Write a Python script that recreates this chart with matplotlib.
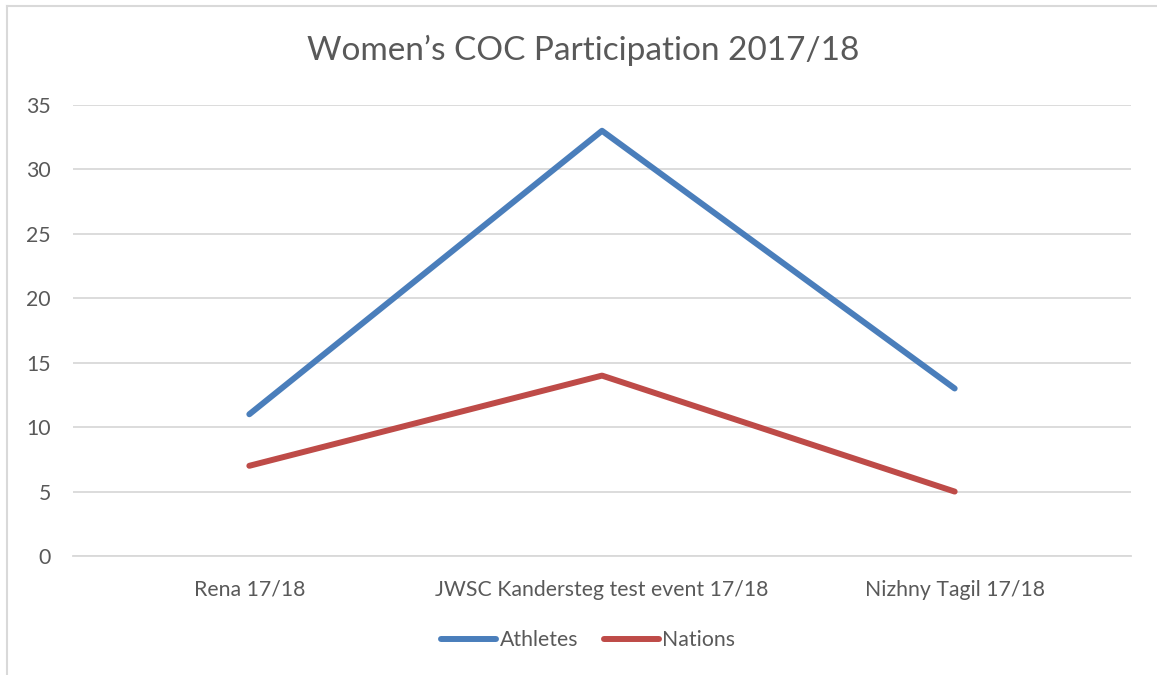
import matplotlib.pyplot as plt
from matplotlib.lines import Line2D

categories = ['Rena 17/18', 'JWSC Kandersteg test event 17/18', 'Nizhny Tagil 17/18']
athletes = [11, 33, 13]
nations = [7, 14, 5]
y_ticks = [0, 5, 10, 15, 20, 25, 30, 35]

text_color = '#595959'
grid_color = '#d9d9d9'
plt.rcParams['font.family'] = ['Lato', 'DejaVu Sans']

fig = plt.figure(figsize=(11.57, 6.75), dpi=100)
W, H = 1157, 675
# plot area in pixels: x 73..1131, y 105..556
ax = fig.add_axes([73 / W, 1 - 556 / H, (1131 - 73) / W, (556 - 105) / H])

x = range(len(categories))
ax.plot(x, athletes, color='#4a7ebb', lw=4.3, solid_capstyle='round',
        solid_joinstyle='round', label='Athletes')
ax.plot(x, nations, color='#be4b48', lw=4.3, solid_capstyle='round',
        solid_joinstyle='round', label='Nations')

ax.set_xlim(-0.5, 2.5)
ax.set_ylim(0, 35)
ax.set_yticks(y_ticks)
ax.set_xticks(list(x))
ax.set_xticklabels(categories)
ax.tick_params(axis='both', length=0, labelsize=15.3, colors=text_color)
ax.tick_params(axis='y', pad=16)
ax.tick_params(axis='x', pad=17)
ax.grid(axis='y', color=grid_color, lw=1.3)
ax.set_axisbelow(True)
for s in ['top', 'right', 'left']:
    ax.spines[s].set_visible(False)
ax.spines['bottom'].set_color(grid_color)
ax.spines['bottom'].set_linewidth(1.3)

fig.text(583 / W, 1 - 50 / H, 'Women\u2019s COC Participation 2017/18',
         ha='center', va='center', fontsize=24, color=text_color)

handles = [Line2D([], [], color='#4a7ebb', lw=4.3, solid_capstyle='round'),
           Line2D([], [], color='#be4b48', lw=4.3, solid_capstyle='round')]
fig.legend(handles, ['Athletes', 'Nations'], loc='center',
           bbox_to_anchor=(588 / W, 1 - 640 / H), ncol=2, frameon=False,
           fontsize=15.3, labelcolor=text_color, handlelength=2.6,
           handletextpad=0.15, columnspacing=1.2)

# chart border (left and top visible)
fig.add_artist(Line2D([7 / W, 7 / W], [0, 1 - 6 / H], color=grid_color, lw=1.5,
                      transform=fig.transFigure))
fig.add_artist(Line2D([7 / W, 1], [1 - 6 / H, 1 - 6 / H], color=grid_color, lw=1.5,
                      transform=fig.transFigure))

fig.savefig('out.png', dpi=100)
